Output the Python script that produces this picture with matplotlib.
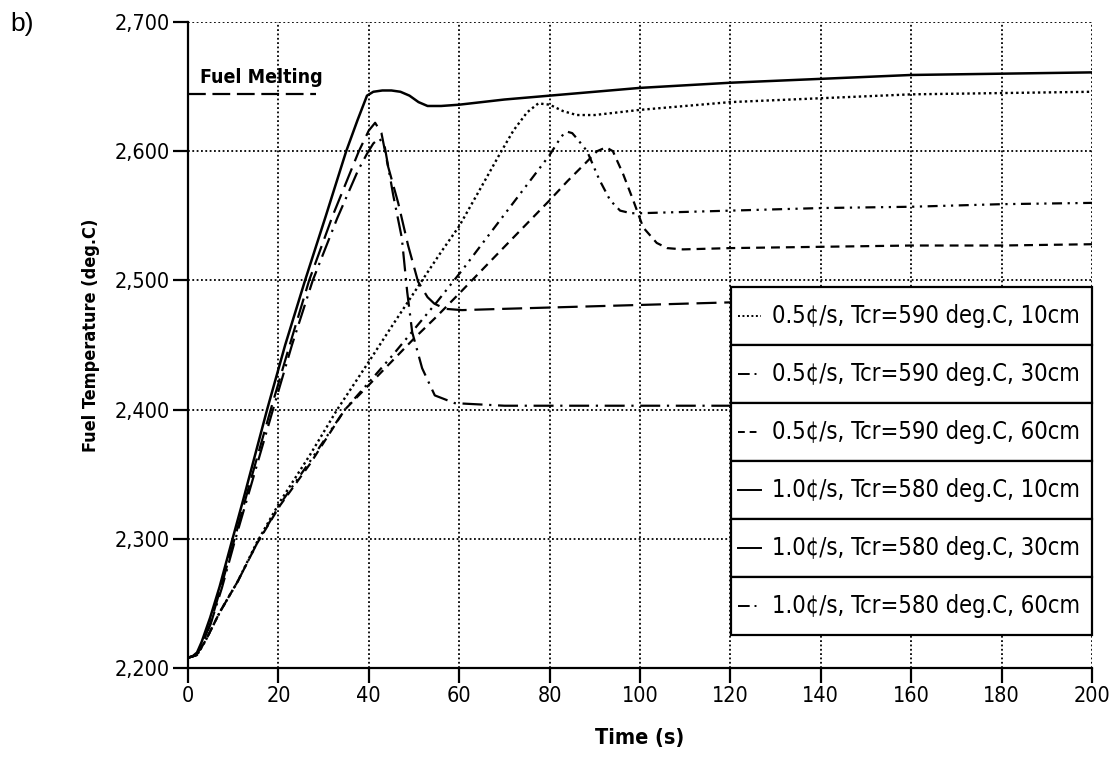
import os
import matplotlib
matplotlib.use("Agg")
import matplotlib.pyplot as plt
from matplotlib import font_manager as fm
from matplotlib.patches import Rectangle
from matplotlib.lines import Line2D

# ---------------- data ----------------
# 0.5 c/s, Tcr=590 deg.C, 10cm  (dotted)
t_05_10 = [0, 2, 4, 7, 11, 15.2, 20.4, 27, 33, 40, 45, 51.8, 56, 60, 65, 69, 72, 75, 77.5,
           80, 83, 86, 90, 95, 100, 120, 140, 160, 180, 200]
T_05_10 = [2208, 2210, 2222, 2243, 2267, 2297, 2329, 2365, 2400, 2437, 2464, 2500, 2522, 2542,
           2573, 2598, 2616, 2630, 2637, 2636, 2631, 2628, 2628, 2630, 2632, 2638, 2641, 2644, 2645, 2646]

# 0.5 c/s, Tcr=590 deg.C, 30cm  (dash-dot-dot)
t_05_30 = [0, 2, 4, 7, 11, 15.2, 20.4, 27, 34.7, 40, 45, 50, 55, 60.9, 65, 70, 75, 80, 82, 83,
           84, 85, 86, 88.3, 91, 93.4, 95.6, 98, 100, 120, 140, 160, 180, 200]
T_05_30 = [2208, 2210, 2222, 2243, 2267, 2296, 2327, 2360, 2400, 2421, 2441, 2462, 2483, 2509,
           2528, 2551, 2574, 2597, 2608, 2613, 2615, 2614, 2610, 2600, 2578, 2562, 2554, 2552,
           2552, 2554, 2556, 2557, 2559, 2560]

# 0.5 c/s, Tcr=590 deg.C, 60cm  (dashed)
t_05_60 = [0, 2, 4, 7, 11, 15.2, 20.4, 27, 34.7, 40, 45, 50, 55, 60.6, 65.3, 70, 75, 80, 84, 88,
           90.5, 92.5, 94, 96.3, 98.5, 100.7, 103.7, 106, 109.5, 120, 140, 160, 180, 200]
T_05_60 = [2208, 2210, 2222, 2243, 2267, 2296, 2326, 2358, 2400, 2419, 2437, 2455, 2472, 2492,
           2509, 2526, 2544, 2562, 2577, 2591, 2600, 2603, 2600, 2582, 2562, 2541, 2529, 2525,
           2524, 2525, 2526, 2527, 2527, 2528]

# 1.0 c/s, Tcr=580 deg.C, 10cm  (solid)
t_10_10 = [0, 1, 2, 3, 4.9, 7, 9.7, 12.2, 17.5, 21.5, 25.9, 30.5, 35, 37.5, 39.6, 41, 43, 45, 47,
           49, 51, 53, 56, 60, 70, 80, 90, 100, 120, 140, 160, 180, 200]
T_10_10 = [2208, 2209, 2212, 2220, 2239, 2263, 2298, 2330, 2400, 2450, 2500, 2550, 2600, 2624, 2643,
           2646, 2647, 2647, 2646, 2643, 2638, 2635, 2635, 2636, 2640, 2643, 2646, 2649, 2653,
           2656, 2659, 2660, 2661]

# 1.0 c/s, Tcr=580 deg.C, 30cm  (long dash)
t_10_30 = [0, 1, 2, 3, 5, 7.5, 10.3, 14, 18.3, 22.5, 26.8, 32, 37.8, 40, 41.4, 42.8, 44.2, 46.5,
           48.7, 50.9, 53, 54.5, 56.9, 60.6, 70, 80, 100, 120, 140, 160, 180, 200]
T_10_30 = [2208, 2209, 2211, 2217, 2235, 2265, 2300, 2347, 2400, 2450, 2500, 2550, 2600, 2616, 2622,
           2614, 2589, 2560, 2527, 2499, 2487, 2482, 2478, 2477, 2478, 2479, 2481, 2483, 2485,
           2486, 2487, 2488]

# 1.0 c/s, Tcr=580 deg.C, 60cm  (long dash-dot)
t_10_60 = [0, 1, 2, 3, 5, 7.5, 10.5, 14, 18.8, 23, 27.6, 33, 37.6, 39.6, 41, 42.3, 43.5, 45.4,
           47.3, 48.5, 49.6, 51.8, 54.6, 59, 70, 100, 120, 140, 160, 180, 200]
T_10_60 = [2208, 2209, 2211, 2217, 2234, 2262, 2300, 2342, 2400, 2450, 2500, 2548, 2585, 2598, 2606,
           2610, 2604, 2566, 2533, 2491, 2460, 2432, 2411, 2405, 2403, 2403, 2403, 2403, 2403,
           2403, 2403]

labels = ["0.5\u00a2/s, Tcr=590 deg.C, 10cm",
          "0.5\u00a2/s, Tcr=590 deg.C, 30cm",
          "0.5\u00a2/s, Tcr=590 deg.C, 60cm",
          "1.0\u00a2/s, Tcr=580 deg.C, 10cm",
          "1.0\u00a2/s, Tcr=580 deg.C, 30cm",
          "1.0\u00a2/s, Tcr=580 deg.C, 60cm"]

x_ticks = [0, 20, 40, 60, 80, 100, 120, 140, 160, 180, 200]
y_ticks = [2200, 2300, 2400, 2500, 2600, 2700]
y_tick_labels = ["2,200", "2,300", "2,400", "2,500", "2,600", "2,700"]

melting_T = 2644
melting_t = [0, 28.3]

# ---------------- fonts: look for a narrow / condensed face ----------------
def pick_narrow(bold):
    prefs = ["LiberationSansNarrow", "DejaVuSansCondensed", "NotoSans-Condensed",
             "Roboto_Condensed", "RobotoCondensed", "OpenSans_Condensed", "OpenSans-Condensed"]
    files = [f.fname for f in fm.fontManager.ttflist]
    for p in prefs:
        cands = [f for f in files if p.lower() in os.path.basename(f).lower()]
        if not cands:
            continue
        def score(fn):
            b = os.path.basename(fn).lower()
            isbold = "bold" in b
            bad = ("italic" in b) or ("oblique" in b) or ("light" in b) or ("semi" in b) \
                or ("extra" in b) or ("black" in b) or ("medium" in b) or ("thin" in b)
            return (isbold != bold) * 2 + bad * 1
        cands.sort(key=score)
        return cands[0]
    return None

nr = pick_narrow(False)
nb = pick_narrow(True)
if nr and nb:
    FP_N = lambda s: fm.FontProperties(fname=nr, size=s)
    FP_B = lambda s: fm.FontProperties(fname=nb, size=s)
    NS = 1.0
else:
    FP_N = lambda s: fm.FontProperties(family="Liberation Sans", size=s)
    FP_B = lambda s: fm.FontProperties(family="Liberation Sans", weight="bold", size=s)
    NS = 0.92

# ---------------- figure ----------------
W, H = 1119, 758
fig = plt.figure(figsize=(W / 100, H / 100), dpi=100)
ax = fig.add_axes([188 / W, 1 - 668 / H, (1092 - 188) / W, (668 - 22) / H])

lw = 1.6
series = [
    (t_05_10, T_05_10, dict(linestyle=(0, (1, 1.3)), lw=1.7)),
    (t_05_30, T_05_30, dict(linestyle=(0, (4.5, 2.5, 1, 2.5, 1, 2.5)), lw=lw)),
    (t_05_60, T_05_60, dict(linestyle=(0, (4, 2.7)), lw=lw)),
    (t_10_10, T_10_10, dict(linestyle="-", lw=lw + 0.2)),
    (t_10_30, T_10_30, dict(linestyle=(0, (9, 3.5)), lw=lw)),
    (t_10_60, T_10_60, dict(linestyle=(0, (9, 3, 1, 3)), lw=lw)),
]
for t, T, st in series:
    ax.plot(t, T, color="black", zorder=3, **st)

# fuel melting marker
ax.plot(melting_t, [melting_T, melting_T], color="black", lw=lw, linestyle=(0, (8, 3)),
        zorder=3, clip_on=False)
ax.text(2.7, 2653, "Fuel Melting", fontproperties=FP_B(14 * NS),
        ha="left", va="baseline")

ax.set_xlim(0, 200)
ax.set_ylim(2200, 2700)
ax.set_xticks(x_ticks)
ax.set_yticks(y_ticks)
ax.set_yticklabels(y_tick_labels)
ax.grid(True, color="black", linestyle=(0, (1, 1.4)), lw=1.3)
ax.set_axisbelow(True)
for s in ("top", "right"):
    ax.spines[s].set_visible(False)
for s in ("left", "bottom"):
    ax.spines[s].set_linewidth(1.6)
ax.tick_params(direction="out", length=11, width=1.6, pad=2)
for lab in ax.get_xticklabels() + ax.get_yticklabels():
    lab.set_fontproperties(FP_N(15.5 * NS))

ax.set_xlabel("Time (s)", fontproperties=FP_B(15.5 * NS))
ax.xaxis.set_label_coords(0.5, -0.093)
ax.set_ylabel("Fuel Temperature (deg.C)", fontproperties=FP_B(13 * NS))
ax.yaxis.set_label_coords(-0.097, 0.515)

fig.text(10 / W, 1 - 12 / H, "b)", fontsize=19, family="Liberation Sans", ha="left", va="top")

# ---------------- boxed legend (table of rows) ----------------
x0, x1 = 0.601, 1.0
ytop, rh = 0.590, 0.0898
sample_styles = [
    dict(linestyle=(0, (1, 1.3)), lw=1.4),
    dict(linestyle=(0, (6, 2.5, 1, 2.5)), lw=1.4),
    dict(linestyle=(0, (3.5, 2.5)), lw=1.4),
    dict(linestyle="-", lw=1.4),
    dict(linestyle="-", lw=1.4),
    dict(linestyle=(0, (6, 2.5, 1, 2.5)), lw=1.4),
]
for i, (lab, st) in enumerate(zip(labels, sample_styles)):
    yb = ytop - (i + 1) * rh
    ax.add_patch(Rectangle((x0, yb), x1 - x0, rh, transform=ax.transAxes, facecolor="white",
                           edgecolor="black", lw=1.6, zorder=10, clip_on=False))
    yc = yb + rh / 2
    ax.add_line(Line2D([0.608, 0.634], [yc, yc], transform=ax.transAxes, color="black",
                       zorder=11, clip_on=False, **st))
    ax.text(0.646, yc, lab, transform=ax.transAxes, fontproperties=FP_N(17 * NS),
            ha="left", va="center", zorder=12)

fig.savefig("out.png", dpi=100)
